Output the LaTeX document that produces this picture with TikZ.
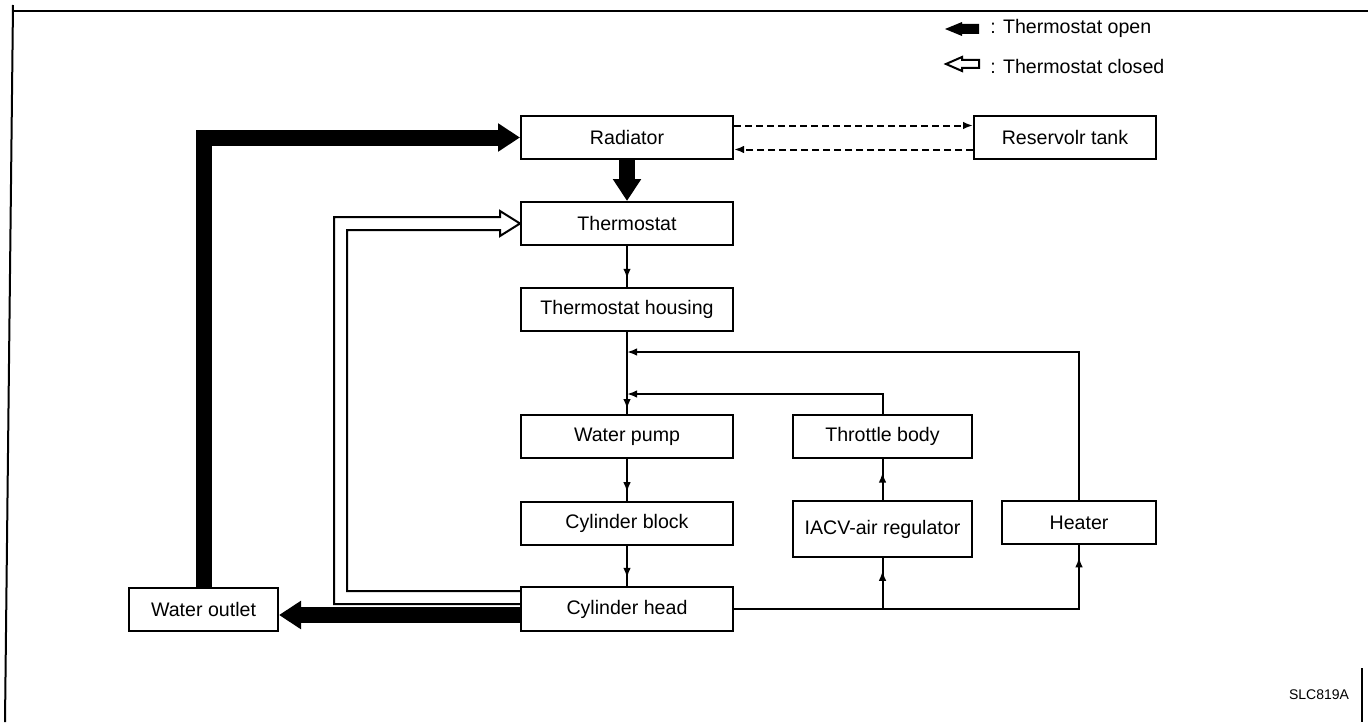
\documentclass[tikz,border=0pt]{standalone}
\usepackage{fontspec}
\setmainfont{Liberation Sans}
\usetikzlibrary{arrows.meta,decorations.markings,calc}
\begin{document}
\begin{tikzpicture}[x=0.5pt,y=-0.5pt,
  lbl/.style={font=\fontsize{9.8}{12}\selectfont},
  box/.style={draw,line width=1pt,minimum height=21.5pt,inner sep=0pt,lbl},
  thin/.style={line width=1pt},
  smalltip/.style={-{Latex[length=5pt,width=3.8pt]}},
  midarrow/.style={postaction={decorate},decoration={markings,mark=at position #1 with {\arrow{Latex[length=5pt,width=3.8pt]}}}},
  thickarrow/.style={line width=8pt,line join=miter,-{Triangle[length=11pt,width=13.5pt]}},
  dashline/.style={line width=1pt,dash pattern=on 3.5pt off 2pt,smalltip}]
\useasboundingbox (0,0) rectangle (1368,722);
% frame
\draw[line width=1pt] (5,722) -- (13,5);
\draw[line width=1pt] (13,11) -- (1368,11);
\draw[line width=1pt] (1362,668) -- (1362,722);

% boxes
\node[box,minimum width=106pt] (rad) at (627,137.5) {Radiator};
\node[box,minimum width=91pt] (res) at (1065,137) {Reservolr tank};
\node[box,minimum width=106pt] (therm) at (627,223.5) {Thermostat};
\node[box,minimum width=106pt] (housing) at (627,309.5) {Thermostat housing};
\node[box,minimum width=106pt] (pump) at (627,436.5) {Water pump};
\node[box,minimum width=106pt] (block) at (627,523) {Cylinder block};
\node[box,minimum width=106pt,minimum height=22pt] (head) at (627,609) {Cylinder head};
\node[box,minimum width=74.5pt] (outlet) at (203.5,609.5) {Water outlet};
\node[box,minimum width=89.5pt] (throttle) at (882.5,436.5) {Throttle body};
\node[box,minimum width=89.5pt,minimum height=28pt] (iacv) at (882.5,529) {IACV-air regulator};
\node[box,minimum width=77pt] (heater) at (1079,522.5) {Heater};

% legend
\fill (979,24) -- (962,24) -- (962,22) -- (945,29) -- (962,36) -- (962,34) -- (979,34) -- cycle;
\node[lbl,anchor=west,inner sep=0pt] (lopen) at (990,28) {: Thermostat open};
\draw[line width=1pt,line join=miter] (979,60) -- (962,60) -- (962,57) -- (946,64) -- (962,71) -- (962,68) -- (979,68) -- cycle;
\node[lbl,anchor=west,inner sep=0pt] (lclosed) at (990,66) {: Thermostat closed};
\node[font=\fontsize{7}{8}\selectfont,anchor=east] (code) at (1356,695) {SLC819A};

% dashed reservoir lines
\draw[dashline] ([yshift=6pt]rad.east) -- ([yshift=6pt]rad.east -| res.west);
\draw[dashline] ([yshift=-6pt]rad.east -| res.west) -- ([yshift=-6pt]rad.east);

% thin flow lines
\coordinate (j1) at (627,352);
\coordinate (j2) at (627,394);
\draw[thin,midarrow=0.8] (therm.south) -- (housing.north);
\draw[thin,midarrow=0.94] (housing.south) -- (pump.north);
\draw[thin,midarrow=0.8] (pump.south) -- (block.north);
\draw[thin,midarrow=0.8] (block.south) -- (head.north);
\draw[thin,smalltip] (heater.north) |- (j1);
\draw[thin,smalltip] (throttle.north) |- (j2);
\draw[thin,midarrow=0.97] (head.east) -| (heater.south);
\coordinate (j3) at (iacv.south |- head.east);
\draw[thin,midarrow=0.75] (j3) -- (iacv.south);
\draw[thin,midarrow=0.67] (iacv.north) -- (throttle.south);

% thick arrows (thermostat open)
\draw[thickarrow] (outlet.north) |- (rad.west);
\draw[thickarrow] (rad.south) -- (therm.north);
\draw[thickarrow] ([yshift=-3pt]head.west) -- ([yshift=-3pt]head.west -| outlet.east);

% open arrow (thermostat closed)
\draw[line width=1pt,line join=miter]
  ($(head.west)+(0,-18)$) -- (347,591) -- (347,230) -- (500,230) -- (500,236)
  -- (therm.west) -- (500,211) -- (500,217) -- (334,217) -- (334,604)
  -- ($(head.west)+(0,-5)$);
\end{tikzpicture}
\end{document}
